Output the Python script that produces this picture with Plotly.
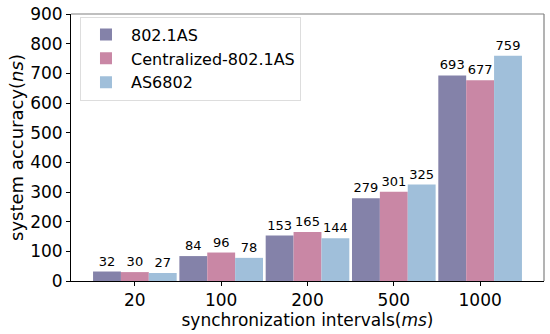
import plotly.graph_objects as go

categories = ["20", "100", "200", "500", "1000"]
series_names = ["802.1AS", "Centralized-802.1AS", "AS6802"]
as8021 = [32, 84, 153, 279, 693]
centralized = [30, 96, 165, 301, 677]
as6802 = [27, 78, 144, 325, 759]
colors = ["#8482A9", "#C987A5", "#A0BFDA"]

values = [as8021, centralized, as6802]
bar_w = 0.323
offsets = [-bar_w, 0, bar_w]
xpos = list(range(len(categories)))

fig = go.Figure()
for name, vals, col, off in zip(series_names, values, colors, offsets):
    fig.add_trace(go.Bar(
        x=[p + off for p in xpos], y=vals, name=name, width=bar_w,
        marker=dict(color=col, line=dict(width=0)),
        text=[str(v) for v in vals], textposition="outside",
        textfont=dict(size=13, color="black", family="DejaVu Sans"),
        cliponaxis=False,
    ))

fig.update_layout(
    width=550, height=334,
    margin=dict(l=71, r=6, t=14, b=53, autoexpand=False),
    paper_bgcolor="white", plot_bgcolor="white",
    font=dict(family="DejaVu Sans", color="black"),
    barmode="overlay",
    showlegend=True,
    legend=dict(x=0.019, y=0.99, xanchor="left", yanchor="top",
                bordercolor="#dddddd", borderwidth=1, bgcolor="white",
                font=dict(size=16), itemwidth=40),
    xaxis=dict(range=[-0.74, 4.74], tickvals=xpos, ticktext=categories,
               showgrid=False, zeroline=False, showline=True, linecolor="black",
               linewidth=1, ticks="outside", ticklen=4, tickcolor="black",
               tickfont=dict(size=17), automargin=False,
               title=dict(text="synchronization intervals(<i>ms</i>)", font=dict(size=17), standoff=0)),
    yaxis=dict(range=[0, 900], tickvals=[0, 100, 200, 300, 400, 500, 600, 700, 800, 900],
               showgrid=False, zeroline=False, showline=True, linecolor="black",
               linewidth=1, ticks="outside", ticklen=4, tickcolor="black",
               tickfont=dict(size=17), automargin=False,
               title=dict(text="system accuracy(<i>ns</i>)", font=dict(size=18), standoff=1)),
    shapes=[
        dict(type="line", xref="paper", yref="paper", x0=0, x1=1, y0=1, y1=1,
             line=dict(color="#808080", width=1.2)),
        dict(type="line", xref="paper", yref="paper", x0=1, x1=1, y0=0, y1=1,
             line=dict(color="#808080", width=1.2)),
    ],
)

fig.write_html("out.html", config={"displayModeBar": False},
               post_script="document.body.style.margin='0';")
